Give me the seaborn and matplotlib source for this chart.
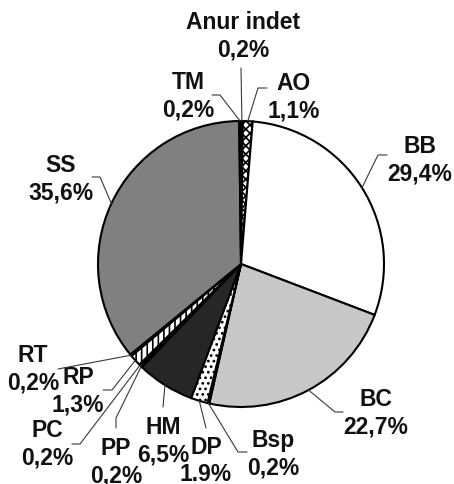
"""Pie chart of prey composition (percentage of items), greyscale style."""

import matplotlib

matplotlib.use("Agg")

import matplotlib.pyplot as plt
import numpy as np
import seaborn as sns

# Data, clockwise from 12 o'clock.
CATEGORIES = ["Anur indet", "AO", "BB", "BC", "Bsp", "DP", "HM",
              "PP", "PC", "RP", "RT", "SS", "TM"]
PERCENT = [0.2, 1.1, 29.4, 22.7, 0.2, 1.9, 6.5, 0.2, 0.2, 1.3, 0.2, 35.6, 0.2]
PERCENT_TEXT = ["0,2%", "1,1%", "29,4%", "22,7%", "0,2%", "1.9%", "6,5%",
                "0,2%", "0,2%", "1,3%", "0,2%", "35,6%", "0,2%"]

# Fill styles per slice.
FILLS = ["white", "white", "white", "#c8c8c8", "white", "white", "#262626",
         "white", "white", "white", "white", "#808080", "#161616"]
HATCHES = ["", "xxxx", "", "", "", "...", "", "", "", "|||", "", "", ""]

# Layout in image pixels (454x484): label centre and leader-line points
# (elbow first, then the end next to the label).
CENTER_PX = (241, 264)
RADIUS_PX = 143
LABEL_PX = {
    "Anur indet": (243, 36), "AO": (294, 97), "BB": (420, 160),
    "BC": (376, 413), "Bsp": (273, 454), "DP": (206, 461),
    "HM": (163, 441), "PP": (116, 462), "PC": (47, 444),
    "RP": (78, 391), "RT": (33, 369), "SS": (61, 179), "TM": (188, 96),
}
LEADER_PX = {
    "Anur indet": [(241, 68)], "AO": [(258, 88), (267, 88)],
    "BB": [(378, 155), (387, 155)], "BC": [(335, 412), (343, 412)],
    "Bsp": [(238, 452), (247, 452)], "DP": [(206, 428)],
    "HM": [(163, 407)], "PP": [(116, 418), (116, 428)],
    "PC": [(80, 444), (72, 444)], "RP": [(112, 390), (103, 390)],
    "RT": [(58, 369)], "SS": [(100, 177), (92, 177)],
    "TM": [(220, 95), (212, 95)],
}


def px(point):
    """Image pixel -> data coordinates (pie radius = 1)."""
    return ((point[0] - CENTER_PX[0]) / RADIUS_PX,
            (CENTER_PX[1] - point[1]) / RADIUS_PX)


sns.set_theme(style="white")
plt.rcParams["font.family"] = ["Liberation Sans", "DejaVu Sans"]
plt.rcParams["hatch.linewidth"] = 1.2

W, H = 454, 484
fig = plt.figure(figsize=(W / 100, H / 100), dpi=100)
ax = fig.add_axes([0, 0, 1, 1])

wedges, _ = ax.pie(
    PERCENT,
    colors=FILLS,
    hatch=HATCHES,
    startangle=90,
    counterclock=False,
    radius=1.0,
    wedgeprops={"edgecolor": "black", "linewidth": 1.5},
)

# pie() resets the limits, so map the axes onto the image pixels afterwards.
ax.set_xlim(*(np.array([0, W]) - CENTER_PX[0]) / RADIUS_PX)
ax.set_ylim(*(CENTER_PX[1] - np.array([H, 0])) / RADIUS_PX)
ax.set_aspect("equal", adjustable="datalim")
ax.axis("off")

for wedge, name, pct in zip(wedges, CATEGORIES, PERCENT_TEXT):
    mid = np.deg2rad((wedge.theta1 + wedge.theta2) / 2)
    path = [(np.cos(mid), np.sin(mid))] + [px(p) for p in LEADER_PX[name]]
    xs, ys = zip(*path)
    ax.plot(xs, ys, color="#3a3a3a", linewidth=0.8, zorder=3)
    tx, ty = px(LABEL_PX[name])
    ax.text(tx, ty, f"{name}\n{pct}", ha="center", va="center",
            multialignment="center", fontsize=16.5, fontweight="bold",
            linespacing=1.25, color="#111111")

fig.savefig("out.png", dpi=100)
